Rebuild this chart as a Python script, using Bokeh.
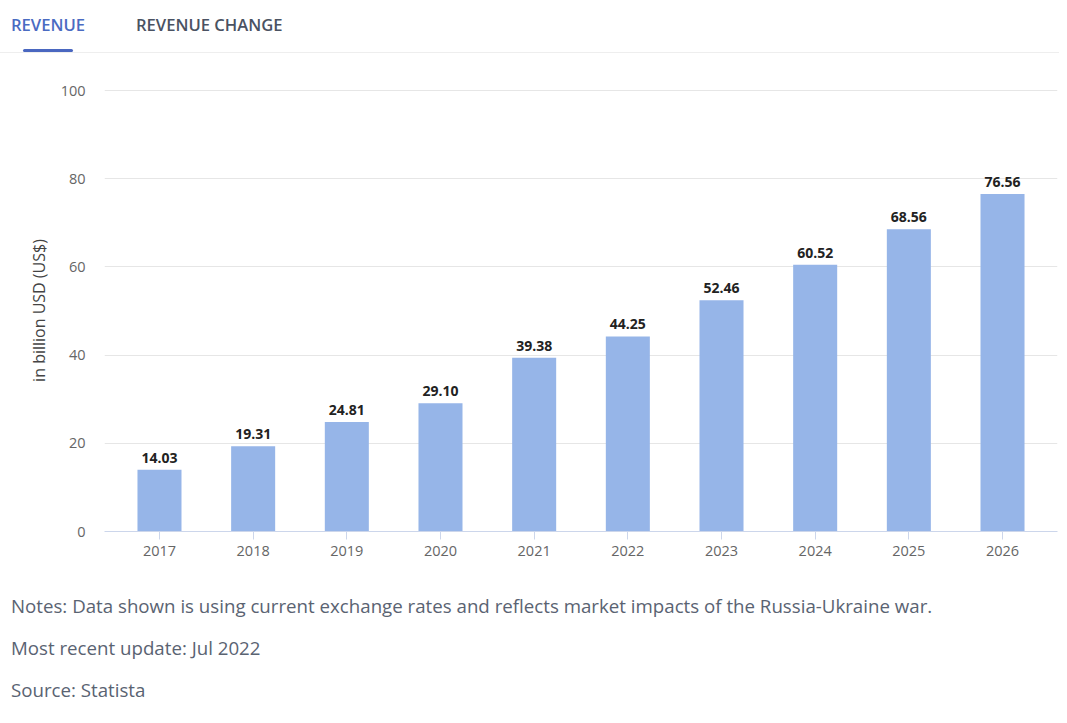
from bokeh.plotting import figure
from bokeh.layouts import column
from bokeh.models import ColumnDataSource, Range1d, FixedTicker, LabelSet, Div
from bokeh.core.properties import value
from bokeh.embed import file_html
from bokeh.resources import INLINE

# ---- data ----
years = [2017, 2018, 2019, 2020, 2021, 2022, 2023, 2024, 2025, 2026]
revenue = [14.03, 19.31, 24.81, 29.10, 39.38, 44.25, 52.46, 60.52, 68.56, 76.56]
y_ticks = [0, 20, 40, 60, 80, 100]
y_title = "in billion USD (US$)"
tabs = ["REVENUE", "REVENUE CHANGE"]
notes = [
    "Notes: Data shown is using current exchange rates and reflects market impacts of the Russia-Ukraine war.",
    "Most recent update: Jul 2022",
    "Source: Statista",
]

FONT = "Open Sans"
W = 1059

# ---- tabs header (HTML) ----
tab_html = (
    f'<div style="position:relative;width:{W}px;height:53px;font-family:\'Open Sans\',sans-serif;">'
    f'<span style="position:absolute;left:11px;top:14px;font-size:16.6px;line-height:22px;'
    f'font-weight:600;color:#4a6bc2;white-space:nowrap;">{tabs[0]}</span>'
    f'<span style="position:absolute;left:136px;top:14px;font-size:16.6px;line-height:22px;'
    f'font-weight:600;color:#4a5262;white-space:nowrap;">{tabs[1]}</span>'
    f'<div style="position:absolute;left:0px;top:52px;width:{W}px;height:1px;background:#eeeeee;"></div>'
    f'<div style="position:absolute;left:23px;top:49px;width:50px;height:3px;'
    f'border-radius:2px;background:#4a67c0;"></div>'
    '</div>'
)
top = Div(text=tab_html, width=W, height=53, margin=(0, 0, 0, 0))

# ---- main chart ----
H = 527
src = ColumnDataSource(dict(x=years, top=revenue,
                            lab=["%.2f" % v for v in revenue]))
p = figure(width=W, height=H, output_backend="svg", toolbar_location=None,
           x_range=Range1d(2016.413, 2026.587), y_range=Range1d(0, 100.25),
           min_border_left=104, min_border_right=W - 1057,
           min_border_top=36, min_border_bottom=49)
p.outline_line_color = None
p.background_fill_color = "white"
p.border_fill_color = "white"

p.vbar(x="x", top="top", bottom=0, width=0.47, source=src,
       fill_color="#96b5e8", line_color=None)

p.add_layout(LabelSet(x="x", y="top", text="lab", source=src, text_align="center",
                      text_baseline="bottom", y_offset=7, text_font=value(FONT),
                      text_font_size="14px", text_font_style="bold",
                      text_color="#222222"))

p.xaxis.ticker = FixedTicker(ticks=years)
p.xaxis.axis_line_color = "#ccd6eb"
p.xaxis.major_tick_line_color = "#ccd6eb"
p.xaxis.major_tick_out = 8
p.xaxis.major_tick_in = 0
p.xaxis.minor_tick_line_color = None
p.xaxis.major_label_standoff = 6
p.xaxis.major_label_text_font = FONT
p.xaxis.major_label_text_font_size = "14.5px"
p.xaxis.major_label_text_color = "#666666"

p.yaxis.ticker = FixedTicker(ticks=y_ticks)
p.yaxis.axis_line_color = None
p.yaxis.major_tick_line_color = None
p.yaxis.minor_tick_line_color = None
p.yaxis.major_tick_out = 0
p.yaxis.major_tick_in = 0
p.yaxis.major_label_standoff = 19
p.yaxis.major_label_text_font = FONT
p.yaxis.major_label_text_font_size = "14.5px"
p.yaxis.major_label_text_color = "#666666"
p.yaxis.axis_label = y_title
p.yaxis.axis_label_standoff = 8
p.yaxis.axis_label_text_font = FONT
p.yaxis.axis_label_text_font_size = "16px"
p.yaxis.axis_label_text_font_style = "normal"
p.yaxis.axis_label_text_color = "#444444"

p.xgrid.grid_line_color = None
p.ygrid.ticker = FixedTicker(ticks=y_ticks)
p.ygrid.grid_line_color = "#e6e6e6"

# ---- notes (HTML) ----
spans = "".join(
    f'<span style="position:absolute;left:11px;top:{15 + 42 * i}px;font-size:18.7px;'
    f'line-height:22px;color:#5a6372;white-space:nowrap;">{t}</span>'
    for i, t in enumerate(notes)
)
bot = Div(text=(f'<div style="position:relative;width:{W}px;height:135px;'
                f'font-family:\'Open Sans\',sans-serif;">{spans}</div>'),
          width=W, height=135, margin=(0, 0, 0, 0))

layout = column(top, p, bot, spacing=0)
open("out.html", "w").write(file_html(layout, INLINE))
